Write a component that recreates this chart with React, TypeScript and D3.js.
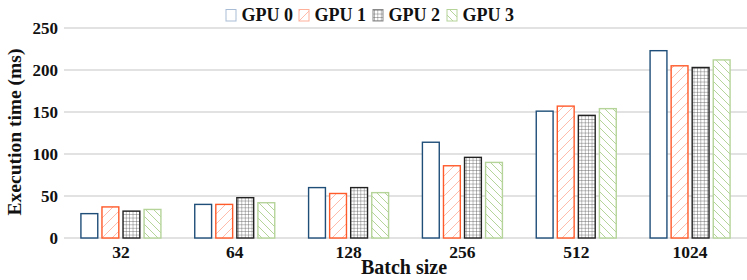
import React, { useRef, useEffect } from 'react';
import * as d3 from 'd3';

const batchSizes = ['32', '64', '128', '256', '512', '1024'];
const seriesNames = ['GPU 0', 'GPU 1', 'GPU 2', 'GPU 3'];
const gpu0 = [29, 40, 60, 114, 151, 223];
const gpu1 = [37, 40, 53, 86, 157, 205];
const gpu2 = [32, 48, 60, 96, 146, 203];
const gpu3 = [34, 42, 54, 90, 154, 212];
const yTicks = [0, 50, 100, 150, 200, 250];

const strokes = ['#1f4e79', '#ff5a2a', '#222222', '#b5d49a'];
const legendStrokes = ['#a9bcd6', '#ffb09a', '#888888', '#b5d49a'];
const fills = ['#ffffff', 'url(#pat1)', 'url(#pat2)', 'url(#pat3)'];

export default function App() {
  const ref = useRef<SVGSVGElement | null>(null);

  useEffect(() => {
    if (!ref.current) return;
    const width = 747;
    const svg = d3.select(ref.current);
    svg.selectAll('*').remove();

    const font = '"Liberation Serif", "Times New Roman", serif';

    // patterns for the hatched bars
    const defs = svg.append('defs');
    const p1 = defs.append('pattern').attr('id', 'pat1').attr('patternUnits', 'userSpaceOnUse')
      .attr('width', 10).attr('height', 10);
    p1.append('rect').attr('width', 10).attr('height', 10).attr('fill', '#fff');
    p1.append('path').attr('d', 'M0,10 L10,0 M-2,2 L2,-2 M8,12 L12,8')
      .attr('stroke', '#ffbcaa').attr('stroke-width', 1);

    const p2 = defs.append('pattern').attr('id', 'pat2').attr('patternUnits', 'userSpaceOnUse')
      .attr('width', 3.4).attr('height', 3.4);
    p2.append('rect').attr('width', 3.4).attr('height', 3.4).attr('fill', '#fff');
    p2.append('path').attr('d', 'M0,0 L3.4,0 M0,0 L0,3.4')
      .attr('stroke', '#555').attr('stroke-width', 0.8);

    const p3 = defs.append('pattern').attr('id', 'pat3').attr('patternUnits', 'userSpaceOnUse')
      .attr('width', 8).attr('height', 8);
    p3.append('rect').attr('width', 8).attr('height', 8).attr('fill', '#fff');
    p3.append('path').attr('d', 'M0,0 L8,8 M-2,6 L2,10 M6,-2 L10,2')
      .attr('stroke', '#b5d49a').attr('stroke-width', 1);

    const x = d3.scaleBand().domain(batchSizes).range([64, 747]);
    const y = d3.scaleLinear().domain([0, 250]).range([238, 28]);
    const inner = d3.scaleBand().domain(seriesNames).range([0, 80]).paddingInner(0.2);

    // gridlines
    svg.append('g').selectAll('line').data(yTicks).enter().append('line')
      .attr('x1', 64).attr('x2', width)
      .attr('y1', d => y(d)).attr('y2', d => y(d))
      .attr('stroke', '#d9d9d9').attr('stroke-width', 1.3);

    // y tick labels
    svg.append('g').selectAll('text').data(yTicks).enter().append('text')
      .attr('x', 58).attr('y', d => y(d) + 6)
      .attr('text-anchor', 'end')
      .attr('font-family', font).attr('font-weight', 'bold').attr('font-size', 17)
      .attr('fill', '#111')
      .text(d => d);

    // bars
    const series = [gpu0, gpu1, gpu2, gpu3];
    series.forEach((vals, si) => {
      svg.append('g').selectAll('rect').data(vals).enter().append('rect')
        .attr('x', (d, i) => (x(batchSizes[i]) as number) + x.bandwidth() / 2 - 40 + (inner(seriesNames[si]) as number))
        .attr('y', d => y(d))
        .attr('width', inner.bandwidth())
        .attr('height', d => y(0) - y(d))
        .attr('fill', fills[si])
        .attr('stroke', strokes[si])
        .attr('stroke-width', 1.4);
    });

    // x tick labels
    svg.append('g').selectAll('text').data(batchSizes).enter().append('text')
      .attr('x', d => (x(d) as number) + x.bandwidth() / 2)
      .attr('y', 258)
      .attr('text-anchor', 'middle')
      .attr('font-family', font).attr('font-weight', 'bold').attr('font-size', 17.5)
      .attr('fill', '#111')
      .text(d => d);

    // axis titles
    svg.append('text')
      .attr('x', 404).attr('y', 274)
      .attr('text-anchor', 'middle')
      .attr('font-family', font).attr('font-weight', 'bold').attr('font-size', 20)
      .attr('fill', '#111')
      .text('Batch size');

    svg.append('text')
      .attr('transform', 'rotate(-90)')
      .attr('x', -132).attr('y', 21)
      .attr('text-anchor', 'middle')
      .attr('font-family', font).attr('font-weight', 'bold').attr('font-size', 19.5)
      .attr('fill', '#111')
      .text('Execution time (ms)');

    // legend
    const legendX = [226, 299, 373, 447];
    const lg = svg.append('g');
    seriesNames.forEach((name, i) => {
      lg.append('rect')
        .attr('x', legendX[i]).attr('y', 9.5)
        .attr('width', 10).attr('height', 11.5)
        .attr('fill', fills[i])
        .attr('stroke', legendStrokes[i])
        .attr('stroke-width', 1);
      lg.append('text')
        .attr('x', legendX[i] + 15.5).attr('y', 21)
        .attr('font-family', font).attr('font-weight', 'bold').attr('font-size', 18)
        .attr('fill', '#111')
        .text(name);
    });
  }, []);

  return (
    <svg ref={ref} width={747} height={280}
      style={{ position: 'absolute', left: 0, top: 0, display: 'block', background: '#fff' }} />
  );
}
